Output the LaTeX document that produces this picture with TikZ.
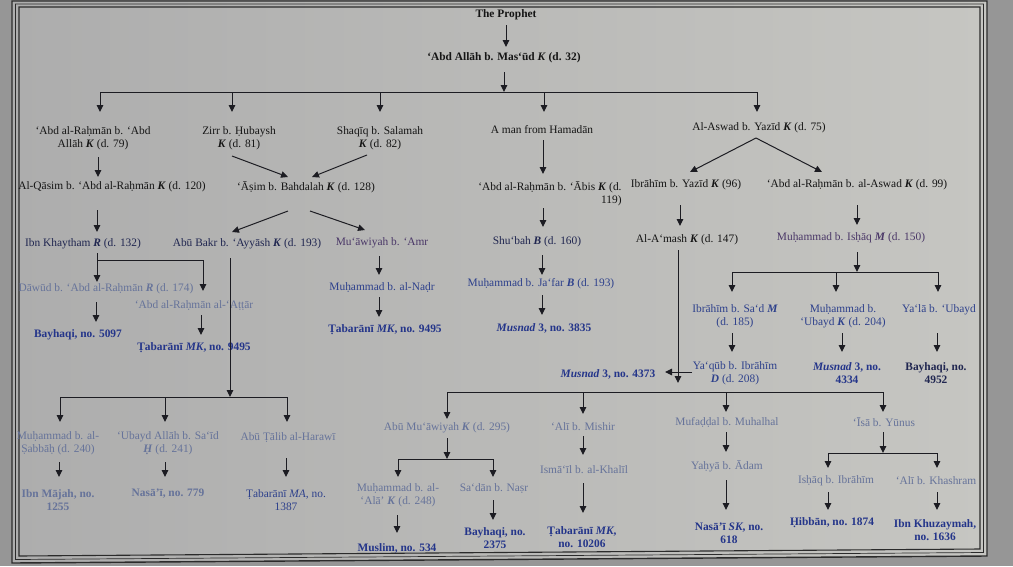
\documentclass[tikz,border=0pt]{standalone}
\usepackage{fontspec}
\setmainfont{Liberation Serif}
\usetikzlibrary{arrows.meta}
\definecolor{ink}{HTML}{151515}
\definecolor{navy}{HTML}{202650}
\definecolor{purp}{HTML}{4B3868}
\definecolor{blu}{HTML}{2E418C}
\definecolor{fade}{HTML}{66739A}
\definecolor{cite}{HTML}{24358A}
\definecolor{linec}{HTML}{1C1C22}
\definecolor{bgL}{HTML}{ADADAD}
\definecolor{bgR}{HTML}{C6C6C2}
\definecolor{bgout}{HTML}{969696}
\definecolor{framec}{HTML}{2B2B2B}
\newcommand{\gk}[1]{\textbf{\textit{#1}}}
\begin{document}
\begin{tikzpicture}[x=1pt,y=-1pt,
  every node/.style={font=\fontsize{11.4}{13}\selectfont, inner sep=0pt, align=center, text=ink},
  cit/.style={font=\fontsize{11.4}{13}\selectfont\bfseries, text=cite},
  arr/.style={draw=linec, line width=1pt, -{Triangle[width=6.5pt,length=7pt]}},
  ln/.style={draw=linec, line width=1pt},
  frm/.style={draw=framec}]
\useasboundingbox (0,0) rectangle (1013,566);
% background
\fill[bgout] (0,0) rectangle (1013,566);
\shade[left color=bgL, right color=bgR] (12,1) -- (987,1) -- (987,556) -- (12,563) -- cycle;
\draw[frm, line width=1.4pt] (12,1) -- (987,1) -- (987,556) -- (12,563) -- cycle;
\draw[frm, line width=0.7pt] (15.5,4) -- (983.5,4) -- (983.5,552.5) -- (15.5,559.5) -- cycle;
\draw[frm, line width=1.1pt] (19,7) -- (980,7) -- (980,549) -- (19,556) -- cycle;

% ---------- nodes ----------
\node (prophet) at (506,15) {\textbf{The Prophet}};
\node (masud) at (504,58) {\textbf{‘Abd Allāh b. Mas‘ūd \textit{K} (d. 32)}};
% row 2
\node (rahmanA) at (93,138) {‘Abd al-Raḥmān b. ‘Abd\\Allāh \gk{K} (d. 79)};
\node (zirr) at (239,138) {Zirr b. Ḥubaysh\\\gk{K} (d. 81)};
\node (shaqiq) at (380,138) {Shaqīq b. Salamah\\\gk{K} (d. 82)};
\node (hamadan) at (542,130) {A man from Hamadān};
\node (aswad) at (759,128) {Al-Aswad b. Yazīd \gk{K} (d. 75)};
% row 3
\node (qasim) at (112,187) {Al-Qāsim b. ‘Abd al-Raḥmān \gk{K} (d. 120)};
\node (asim) at (306,187) {‘Āṣim b. Bahdalah \gk{K} (d. 128)};
\node[align=right] (abis) at (550,194) {‘Abd al-Raḥmān b. ‘Ābis \gk{K} (d.\\119)};
\node (ibrY) at (686,185) {Ibrāhīm b. Yazīd \gk{K} (96)};
\node (rahmanAs) at (857,185) {‘Abd al-Raḥmān b. al-Aswad \gk{K} (d. 99)};
% row 4
\node[text=navy] (khaytham) at (83,244) {Ibn Khaytham \gk{R} (d. 132)};
\node[text=navy] (abubakr) at (247,244) {Abū Bakr b. ‘Ayyāsh \gk{K} (d. 193)};
\node[text=purp] (muawiyaA) at (382,243) {Mu‘āwiyah b. ‘Amr};
\node[text=navy] (shubah) at (537,242) {Shu‘bah \gk{B} (d. 160)};
\node (amash) at (687,240) {Al-A‘mash \gk{K} (d. 147)};
\node[text=purp] (ishaq) at (851,238) {Muḥammad b. Isḥāq \gk{M} (d. 150)};
% left branch
\node[text=fade] (dawud) at (106,289) {Dāwūd b. ‘Abd al-Raḥmān \gk{R} (d. 174)};
\node[text=fade] (attar) at (194,305) {‘Abd al-Raḥmān al-‘Aṭṭār};
\node[cit] (bayhaqiA) at (78,335) {Bayhaqi, no. 5097};
\node[cit] (tabaraniA) at (194,348) {Ṭabarānī \textit{MK}, no. 9495};
% middle column
\node[text=blu] (nadr) at (382,287) {Muḥammad b. al-Naḍr};
\node[cit] (tabaraniB) at (385,330) {Ṭabarānī \textit{MK}, no. 9495};
\node[text=blu] (jafar) at (541,284) {Muḥammad b. Ja‘far \gk{B} (d. 193)};
\node[cit] (musnadA) at (544,328) {\textit{Musnad} 3, no. 3835};
\node[cit] (musnadB) at (608,374) {\textit{Musnad} 3, no. 4373};
% right group
\node[text=blu] (ibrS) at (735,316) {Ibrāhīm b. Sa‘d \gk{M}\\(d. 185)};
\node[text=blu] (mubayd) at (843,316) {Muḥammad b.\\‘Ubayd \gk{K} (d. 204)};
\node[text=blu] (yala) at (939,310) {Ya‘lā b. ‘Ubayd};
\node[text=blu] (yaqub) at (735,373) {Ya‘qūb b. Ibrāhīm\\\gk{D} (d. 208)};
\node[cit] (musnadC) at (847,373) {\textit{Musnad} 3, no.\\4334};
\node[cit, text=navy] (bayhaqiB) at (936,373) {Bayhaqi, no.\\4952};
% lower left
\node[text=fade] (sabbah) at (58,443) {Muḥammad b. al-\\Ṣabbāḥ (d. 240)};
\node[text=fade] (ubaydA) at (168,443) {‘Ubayd Allāh b. Sa‘īd\\\gk{Ḥ} (d. 241)};
\node[text=fade] (harawi) at (288,437) {Abū Ṭālib al-Harawī};
\node[cit, text=fade] (majah) at (58,500) {Ibn Mājah, no.\\1255};
\node[cit, text=fade] (nasaiA) at (168,494) {Nasā’ī, no. 779};
\node[text=blu] (tabaraniC) at (286,500) {Ṭabarānī \textit{MA}, no.\\1387};
% lower middle
\node[text=fade] (abumuaw) at (447,428) {Abū Mu‘āwiyah \gk{K} (d. 295)};
\node[text=fade] (alaa) at (398,495) {Muḥammad b. al-\\‘Alā’ \gk{K} (d. 248)};
\node[text=fade] (sadan) at (494,488) {Sa‘dān b. Naṣr};
\node[cit] (muslim) at (397,548) {Muslim, no. 534};
\node[cit] (bayhaqiC) at (495,538) {Bayhaqi, no.\\2375};
\node[text=fade] (mishir) at (583,427) {‘Alī b. Mishir};
\node[text=fade] (khalil) at (584,470) {Ismā‘īl b. al-Khalīl};
\node[cit] (tabaraniD) at (582,537) {Ṭabarānī \textit{MK},\\no. 10206};
% lower right
\node[text=fade] (mufaddal) at (727,422) {Mufaḍḍal b. Muhalhal};
\node[text=fade] (yahya) at (727,466) {Yaḥyā b. Ādam};
\node[cit] (nasaiB) at (729,533) {Nasā’ī \textit{SK}, no.\\618};
\node[text=fade] (isa) at (884,422) {‘Īsā b. Yūnus};
\node[text=fade] (ishaqB) at (836,481) {Isḥāq b. Ibrāhīm};
\node[text=fade] (khashram) at (936,481) {‘Alī b. Khashram};
\node[cit] (hibban) at (832,523) {Ḥibbān, no. 1874};
\node[cit] (khuzaymah) at (935,530) {Ibn Khuzaymah,\\no. 1636};

% ---------- connectors ----------
\draw[arr] ([shift={(0,10)}]prophet.center) -- ([shift={(2,-11)}]masud.center);
\coordinate (tbl) at (100,92); \coordinate (tbm) at (504,92); \coordinate (tbr) at (757,92);
\draw[ln] (tbl) -- (tbr);
\draw[arr] ([shift={(0,14)}]masud.center) -- (tbm);
\draw[arr] (tbl) -- ([shift={(7,-26)}]rahmanA.center);
\draw[arr] ([shift={(-7,-46)}]zirr.center) -- ([shift={(-7,-26)}]zirr.center);
\draw[arr] ([shift={(0,-46)}]shaqiq.center) -- ([shift={(0,-26)}]shaqiq.center);
\draw[arr] ([shift={(2,-38)}]hamadan.center) -- ([shift={(2,-18)}]hamadan.center);
\draw[arr] (tbr) -- ([shift={(-2,-16)}]aswad.center);

\draw[arr] ([shift={(5,19)}]rahmanA.center) -- ([shift={(-14,-10)}]qasim.center);
\draw[arr] ([shift={(-7,18)}]zirr.center) -- ([shift={(-18,-10)}]asim.center);
\draw[arr] ([shift={(-13,17)}]shaqiq.center) -- ([shift={(6,-10)}]asim.center);
\draw[arr] ([shift={(1,10)}]hamadan.center) -- ([shift={(-7,-20)}]abis.center);
\coordinate (apex) at ([shift={(-3,10)}]aswad.center);
\draw[arr] (apex) -- ([shift={(4,-13)}]ibrY.center);
\draw[arr] (apex) -- ([shift={(-35,-13)}]rahmanAs.center);

\draw[arr] ([shift={(-15,23)}]qasim.center) -- ([shift={(14,-12)}]khaytham.center);
\draw[arr] ([shift={(-18,24)}]asim.center) -- ([shift={(-15,-12)}]abubakr.center);
\draw[arr] ([shift={(4,24)}]asim.center) -- ([shift={(-17,-13)}]muawiyaA.center);
\draw[arr] ([shift={(-7,14)}]abis.center) -- ([shift={(6,-15)}]shubah.center);
\draw[arr] ([shift={(-6,20)}]ibrY.center) -- ([shift={(-7,-14)}]amash.center);
\draw[arr] ([shift={(0,20)}]rahmanAs.center) -- ([shift={(6,-13)}]ishaq.center);

\draw[arr] ([shift={(14,9)}]khaytham.center) -- ([shift={(-9,-7)}]dawud.center);
\draw[arr] ([shift={(14,16)}]khaytham.center) -| ([shift={(9,-14)}]attar.center);
\draw[arr] ([shift={(-10,13)}]dawud.center) -- ([shift={(18,-13)}]bayhaqiA.center);
\draw[arr] ([shift={(7,10)}]attar.center) -- ([shift={(7,-13)}]tabaraniA.center);

\coordinate (bbl) at (60,397); \coordinate (bbm) at (230,397); \coordinate (bbr) at (287,397);
\draw[ln] (bbl) -- (bbr);
\draw[arr] ([shift={(-17,14)}]abubakr.center) -- (bbm);
\draw[arr] (bbl) -- ([shift={(2,-21)}]sabbah.center);
\draw[arr] ([shift={(-3,-46)}]ubaydA.center) -- ([shift={(-3,-21)}]ubaydA.center);
\draw[arr] (bbr) -- ([shift={(-1,-15)}]harawi.center);
\draw[arr] ([shift={(1,19)}]sabbah.center) -- ([shift={(1,-23)}]majah.center);
\draw[arr] ([shift={(-3,19)}]ubaydA.center) -- ([shift={(-3,-17)}]nasaiA.center);
\draw[arr] ([shift={(-2,21)}]harawi.center) -- ([shift={(0,-23)}]tabaraniC.center);

\draw[arr] ([shift={(-3,13)}]muawiyaA.center) -- ([shift={(-3,-12)}]nadr.center);
\draw[arr] ([shift={(-3,10)}]nadr.center) -- ([shift={(-6,-13)}]tabaraniB.center);
\draw[arr] ([shift={(5,13)}]shubah.center) -- ([shift={(1,-9)}]jafar.center);
\draw[arr] ([shift={(1,11)}]jafar.center) -- ([shift={(-2,-13)}]musnadA.center);

\coordinate (lbl) at (447,392); \coordinate (lbm) at (678,392); \coordinate (lbr) at (883,392);
\draw[ln] (lbl) -- (lbr);
\draw[arr, shorten >=9pt] ([shift={(-9,10)}]amash.center) -- (lbm);
\draw[arr] ([shift={(-43,-1)}]yaqub.center) -- ([shift={(57,-2)}]musnadB.center);

\coordinate (ibl) at (732,272); \coordinate (ibm) at (857,272); \coordinate (ibr) at (938,272);
\draw[ln] (ibl) -- (ibr);
\draw[arr] ([shift={(6,14)}]ishaq.center) -- (ibm);
\draw[arr] (ibl) -- ([shift={(-3,-24)}]ibrS.center);
\draw[arr] ([shift={(-7,-44)}]mubayd.center) -- ([shift={(-7,-24)}]mubayd.center);
\draw[arr] (ibr) -- ([shift={(-1,-18)}]yala.center);
\draw[arr] ([shift={(-3,17)}]ibrS.center) -- ([shift={(-3,-21)}]yaqub.center);
\draw[arr] ([shift={(-1,17)}]mubayd.center) -- ([shift={(-5,-21)}]musnadC.center);
\draw[arr] ([shift={(-2,23)}]yala.center) -- ([shift={(1,-21)}]bayhaqiB.center);

\draw[arr] (lbl) -- ([shift={(0,-9)}]abumuaw.center);
\draw[arr] ([shift={(0,-35)}]mishir.center) -- ([shift={(0,-13)}]mishir.center);
\draw[arr] ([shift={(-1,-30)}]mufaddal.center) -- ([shift={(-1,-10)}]mufaddal.center);
\draw[arr] (lbr) -- ([shift={(-1,-10)}]isa.center);

\coordinate (mbl) at (398,459); \coordinate (mbm) at (447,459); \coordinate (mbr) at (493,459);
\draw[ln] (mbl) -- (mbr);
\draw[arr] ([shift={(0,10)}]abumuaw.center) -- (mbm);
\draw[arr] (mbl) -- ([shift={(0,-18)}]alaa.center);
\draw[arr] (mbr) -- ([shift={(-1,-11)}]sadan.center);
\draw[arr] ([shift={(-1,20)}]alaa.center) -- ([shift={(0,-15)}]muslim.center);
\draw[arr] ([shift={(-1,12)}]sadan.center) -- ([shift={(-2,-18)}]bayhaqiC.center);
\draw[arr] ([shift={(0,9)}]mishir.center) -- ([shift={(-1,-15)}]khalil.center);
\draw[arr] ([shift={(-1,13)}]khalil.center) -- ([shift={(1,-24)}]tabaraniD.center);
\draw[arr] ([shift={(-1,10)}]mufaddal.center) -- ([shift={(-1,-14)}]yahya.center);
\draw[arr] ([shift={(-1,14)}]yahya.center) -- ([shift={(-3,-23)}]nasaiB.center);

\coordinate (rbl) at (828,453); \coordinate (rbm) at (883,453); \coordinate (rbr) at (937,453);
\draw[ln] (rbl) -- (rbr);
\draw[arr] ([shift={(-1,10)}]isa.center) -- (rbm);
\draw[arr] (rbl) -- ([shift={(-8,-13)}]ishaqB.center);
\draw[arr] (rbr) -- ([shift={(1,-13)}]khashram.center);
\draw[arr] ([shift={(-8,11)}]ishaqB.center) -- ([shift={(-4,-13)}]hibban.center);
\draw[arr] ([shift={(1,11)}]khashram.center) -- ([shift={(2,-20)}]khuzaymah.center);
\end{tikzpicture}
\end{document}
